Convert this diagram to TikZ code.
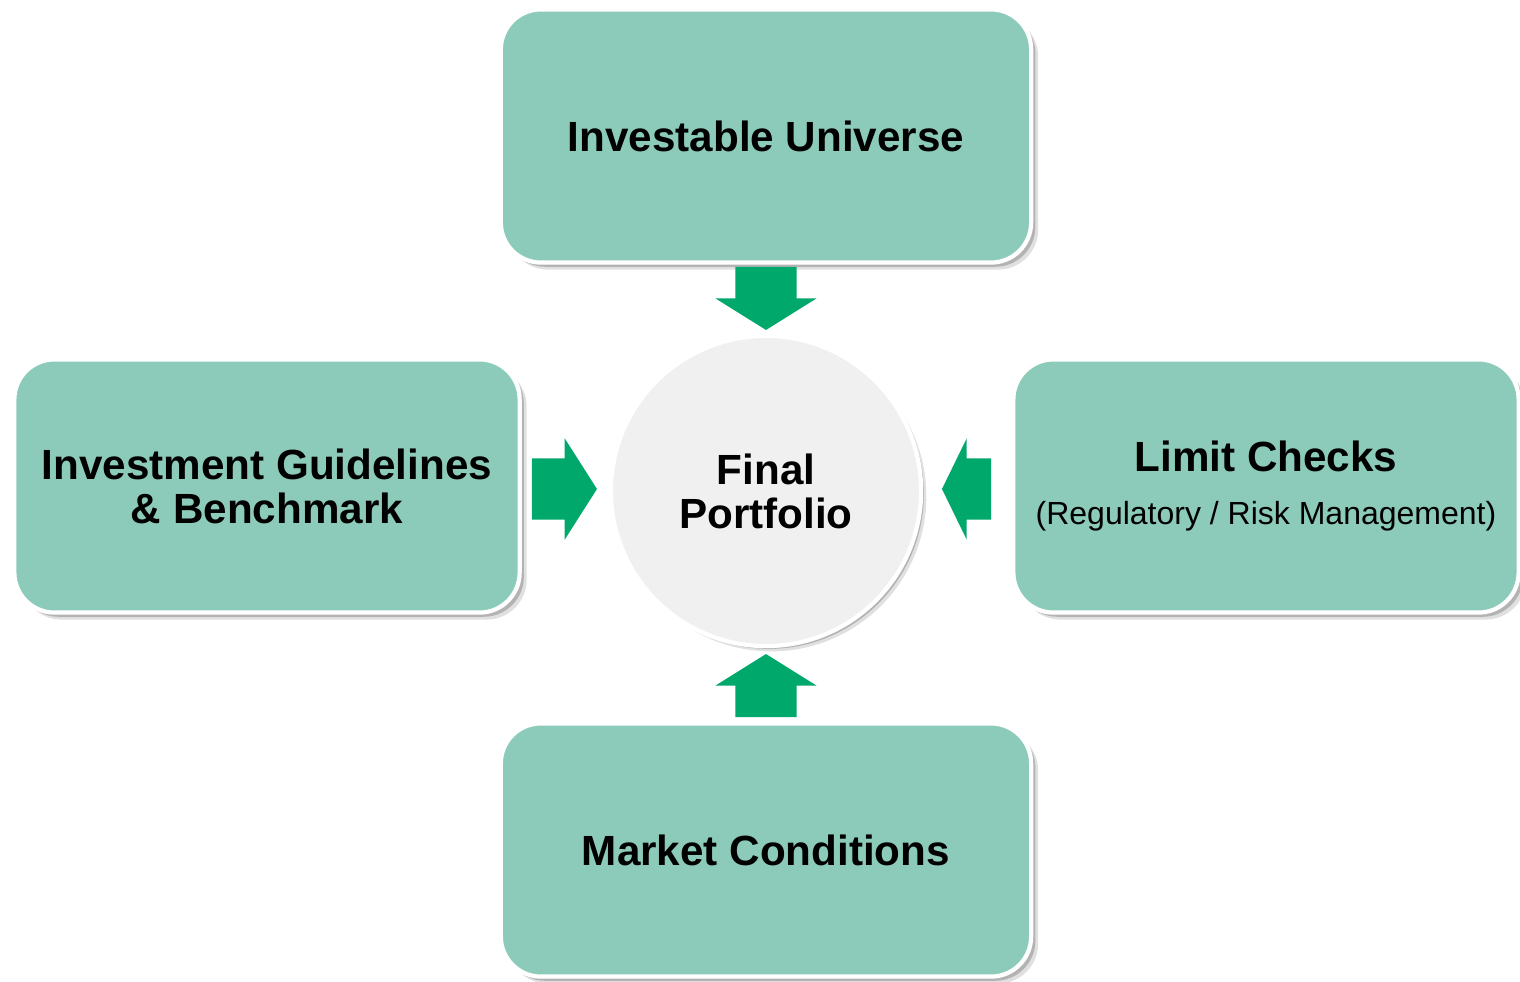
\documentclass[tikz,border=0pt]{standalone}
\usepackage{fontspec}
\setmainfont{Liberation Sans}
\usepackage{xcolor}
\usetikzlibrary{shapes.arrows,shadows,calc}

\definecolor{boxgreen}{HTML}{8CCBBA}
\definecolor{arrowgreen}{HTML}{00A86B}
\definecolor{centregrey}{HTML}{F0F0F0}

\tikzset{
    factor/.style={rectangle, rounded corners=0.4cm, fill=boxgreen, draw=white,
        line width=1.2pt, minimum width=5.3cm, minimum height=2.53cm, align=center,
        inner xsep=0pt, font=\fontsize{12}{12.5}\selectfont\bfseries,
        drop shadow={shadow xshift=2pt, shadow yshift=-2pt, fill=black, opacity=0.12},
        drop shadow={shadow xshift=1.2pt, shadow yshift=-1.2pt, fill=black, opacity=0.2}},
    sidefactor/.style={factor, minimum width=5.05cm},
    centre/.style={circle, fill=centregrey, draw=white, line width=1.2pt,
        minimum size=3.1cm, align=center,
        font=\fontsize{12}{12.5}\selectfont\bfseries,
        drop shadow={shadow xshift=1.5pt, shadow yshift=-1.5pt, fill=black, opacity=0.12},
        drop shadow={shadow xshift=0.8pt, shadow yshift=-0.8pt, fill=black, opacity=0.2}},
    feed/.style={single arrow, fill=arrowgreen, inner xsep=0pt, inner ysep=0.3cm,
        minimum height=0.63cm, single arrow head extend=0.2cm,
        single arrow tip angle=116, anchor=tip}
}

\begin{document}
\begin{tikzpicture}[x=0.01cm, y=-0.01cm]
            \useasboundingbox (0, 0) rectangle (1520, 982);

            \node[centre] (fp) at (766, 491) {Final\\Portfolio};

            \node[factor] (uni) at (766, 136) {Investable Universe};
            \node[sidefactor] (guide) at (267, 486) {Investment Guidelines\\\& Benchmark};
            \node[sidefactor] (limit) at (1266, 486)
                {Limit Checks\\[2.6pt]{\fontsize{9.1}{11}\selectfont\mdseries (Regulatory / Risk Management)}};
            \node[factor] (mkt) at (766, 850) {Market Conditions};

            % block arrows pointing into the final portfolio
            \node[feed, rotate=-90] (a1) at ($(fp.north)+(0,-3)$) {};
            \node[feed, minimum height=0.65cm, single arrow tip angle=115] (a2) at ($(fp.west)+(-11,-2)$) {};
            \node[feed, rotate=180, minimum height=0.49cm, single arrow tip angle=128] (a3) at ($(fp.east)+(18,-2)$) {};
            \node[feed, rotate=90] (a4) at ($(fp.south)+(0,5)$) {};
        \end{tikzpicture}
\end{document}
